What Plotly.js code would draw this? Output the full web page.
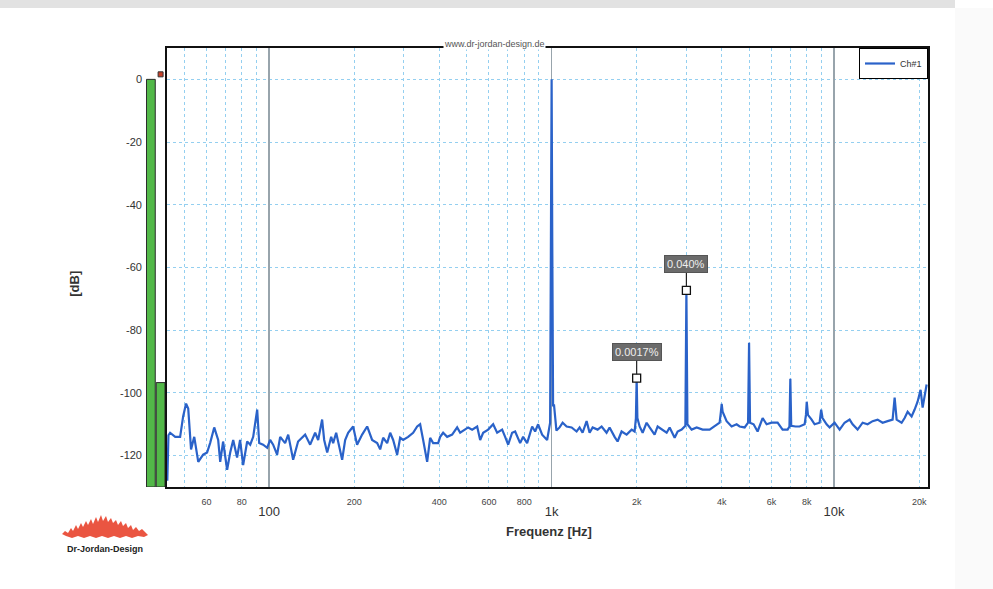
<!DOCTYPE html>
<html>
<head>
<meta charset="utf-8">
<script src="https://cdn.plot.ly/plotly-3.0.1.min.js"></script>
<style>
  html, body { margin:0; padding:0; background:#ffffff; }
  #wrap { position:relative; width:993px; height:589px; overflow:hidden; }
  #topband { position:absolute; left:0; top:0; width:955px; height:8px; background:#e2e2e2; }
  #rightband { position:absolute; left:955px; top:8px; width:38px; height:581px; background:#fafafa; }
  #logo { position:absolute; left:60px; top:512px; }
  #chart { position:absolute; left:0; top:0; width:993px; height:589px; }
</style>
</head>
<body>
<div id="wrap">
  <div id="topband"></div>
  <div id="rightband"></div>
  <svg id="logo" width="90" height="30" viewBox="0 0 90 30">
    <polygon fill="#e8432c" fill-opacity="0.9"
      points="2,22 5,19 8,21 11,16 13,19 16,13 18,17 21,11 23,15 26,9 28,13 31,7 33,12 36,5 38,10 41,3 43,9 46,4 48,10 51,6 53,11 56,8 58,13 61,9 63,14 66,11 68,16 71,13 73,18 76,15 79,19 82,17 86,21 88,23 84,25 78,24 72,26 66,24 60,26 54,24 48,26 42,24 36,26 30,24 24,26 18,24 12,26 6,24"/>
  </svg>
  <div id="chart"></div>
</div>
<script>
// ---- Spectrum data (Ch#1) ----
const freqHz = [
  43.6, 44.0, 44.6, 46.5, 48.4, 49.6, 50.8, 51.7, 52.9, 54.3, 56.1, 58.4, 60.3, 61.8, 63.9, 66.0, 67.1, 68.7,
  71.0, 72.8, 74.6, 77.0, 78.9, 80.9, 83.6, 85.7, 87.8, 90.7, 92.2, 95.2, 98.4, 100.8, 103.3, 106.7, 109.4,
  113.9, 116.8, 121.6, 126.6, 131.9, 134.1, 139.7, 145.5, 149.1, 154.0, 156.6, 160.5, 165.8, 168.5, 172.7,
  176.9, 181.3, 185.8, 190.4, 198.3, 204.8, 213.4, 222.3, 231.5, 241.2, 247.2, 253.3, 261.7, 268.2, 274.8,
  283.9, 290.9, 298.1, 310.5, 323.4, 334.2, 342.4, 350.9, 362.5, 371.5, 380.7, 396.6, 403.1, 413.0, 426.7,
  444.5, 463.0, 474.5, 494.2, 506.4, 523.2, 545.0, 558.5, 572.3, 596.1, 620.9, 641.4, 668.1, 684.6, 701.5,
  724.8, 742.7, 773.6, 792.7, 819.0, 853.1, 874.2, 895.9, 925.5, 964.1, 987.9,
  995, 1000, 1005, 1012, 1020, 1040, 1067, 1094, 1130, 1177, 1226, 1256, 1287, 1330, 1363, 1397, 1455,
  1503, 1565, 1604, 1671, 1712, 1769, 1843, 1920, 1967, 1988, 2000, 2012, 2049, 2100, 2169, 2223, 2315,
  2373, 2471, 2554, 2617, 2726, 2793, 2886, 2975, 3000, 3025, 3131, 3262, 3424, 3625, 3776, 3933, 3975,
  4000, 4030, 4164, 4337, 4518, 4630, 4823, 4960, 5000, 5040, 5188, 5360, 5584, 5769, 6009, 6310, 6572,
  6846, 6950, 7000, 7050, 7305, 7549, 7864, 7950, 8000, 8080, 8326, 8531, 8885, 9000, 9100, 9408, 9641,
  10040, 10460, 10890, 11350, 11630, 12110, 12620, 13140, 13690, 14260, 14850, 15470, 16110, 16380,
  16650, 17340, 17770, 18210, 18810, 19280, 19750, 20240, 20580, 21260
];
const levelDb = [
  -128, -113.5, -112.7, -114, -114, -107.5, -103.4, -105, -118, -114, -122, -119.7, -119, -116, -111, -115, -122, -115.5,
  -124.5, -119, -115, -120.6, -115, -123, -115.5, -116.5, -114, -105.3, -116, -116.5, -117.5, -115, -116.5, -119.7, -114,
  -116, -113.3, -121.3, -115.5, -114, -113.3, -116.5, -112.7, -115, -108.5, -115, -119, -114, -116, -112.7,
  -117, -121.3, -115, -112.7, -110.7, -116.5, -113.3, -110.7, -115, -116, -118, -114.3, -116, -112.7, -115,
  -119.7, -114.3, -115, -114, -112.7, -110.7, -110, -115, -122, -114.3, -116, -116, -114, -112.7, -114,
  -113.3, -111, -112.7, -111.7, -111, -111.7, -110.7, -115, -112.7, -111.7, -110, -112.7, -111.7, -114, -116.5,
  -112.7, -112.3, -116, -114, -116, -110.7, -112.3, -110, -113.3, -115, -109.5,
  -50, 0, -50, -104, -104, -112, -111, -109.5, -110.7, -111, -112.3, -111, -112.7, -109, -112.7, -111, -111.7,
  -110.7, -112.7, -111, -114, -115.5, -112.3, -113.3, -111.7, -112.3, -108, -95.3, -108, -110.7, -112.7, -109.5, -111, -113.3,
  -110.7, -111.7, -112.7, -111, -114.3, -112.3, -111.7, -110.5, -67.3, -110, -111.7, -111, -111.7, -111.7, -110.7, -109.5, -106,
  -103.5, -106, -109, -110.7, -110, -110.7, -111, -109.5, -84, -109.5, -110, -112.3, -108, -110, -109.5, -109.5, -111.7,
  -111.7, -110.7, -95.5, -110.5, -110.7, -110.7, -110, -107, -102.8, -107, -108.5, -110, -109.5, -105.3, -108, -110, -111,
  -109.5, -111.7, -109.5, -108.5, -110, -111.7, -109.5, -110, -109, -108.5, -109.5, -109, -108.5, -101.5,
  -108.5, -109.5, -108, -106, -107.5, -105.3, -102.8, -99, -104.7, -97.3
];

// ---- Harmonic markers ----
const harmonicHz = [2000, 3000];
const harmonicDb = [-95.3, -67.3];
const harmonicLabels = ['0.0017%', '0.040%'];

// ---- Level meters ----
const meterSlots = [0, 1];
const meterLevelDb = [0, -96.7];
const meterFloorDb = -130;
const peakSlot = [1];
const peakDb = [1.6];

// ---- Axes ----
const yTicks = [0, -20, -40, -60, -80, -100, -120];
const yTickText = ['0', '-20', '-40', '-60', '-80', '-100', '-120'];
const xGridHz = [50, 60, 70, 80, 90, 200, 300, 400, 500, 600, 700, 800, 900,
                 2000, 3000, 4000, 5000, 6000, 7000, 8000, 9000, 20000];
const xGridText = ['', '60', '', '80', '', '200', '', '400', '', '600', '', '800', '',
                   '2k', '', '4k', '', '6k', '', '8k', '', '20k'];
const decadeHz = [100, 1000, 10000];
const decadeText = ['100', '1k', '10k'];

const xRange = [Math.log10(43.5), Math.log10(21500)];
const yRange = [-130, 10];
const FONT = 'Liberation Sans, Arial, sans-serif';

const traces = [
  {
    type: 'bar', x: meterSlots, y: meterLevelDb.map(v => v - meterFloorDb), base: meterFloorDb,
    xaxis: 'x2', yaxis: 'y2', width: 0.9, showlegend: false, hoverinfo: 'skip',
    marker: { color: '#52b848', line: { color: '#2b2b2b', width: 1 } }
  },
  {
    type: 'scatter', mode: 'markers', x: peakSlot, y: peakDb, xaxis: 'x2', yaxis: 'y2',
    showlegend: false, hoverinfo: 'skip',
    marker: { symbol: 'square', size: 5, color: '#c8402a', line: { color: '#333', width: 1 } }
  },
  {
    type: 'scatter', mode: 'lines', x: [], y: [], xaxis: 'x3', yaxis: 'y', showlegend: false, hoverinfo: 'skip'
  },
  {
    type: 'scatter', mode: 'lines', name: 'Ch#1', x: freqHz, y: levelDb,
    line: { color: '#2a62c9', width: 2.2 }
  },
  {
    type: 'scatter', mode: 'markers', x: harmonicHz, y: harmonicDb, showlegend: false, hoverinfo: 'skip',
    marker: { symbol: 'square', size: 8, color: '#ffffff', line: { color: '#111', width: 1.3 } }
  }
];

const annotations = harmonicHz.map((f, i) => ({
  x: Math.log10(f), y: harmonicDb[i], xref: 'x', yref: 'y',
  text: harmonicLabels[i], showarrow: true, arrowhead: 0, arrowwidth: 1.2, arrowcolor: '#222',
  ax: 0, ay: -26, standoff: 4,
  bgcolor: '#6b6b6b', bordercolor: '#555', borderwidth: 1, borderpad: 2,
  font: { family: FONT, size: 11, color: '#eeeeee' }
}));
annotations.push(
  { xref: 'paper', yref: 'paper', x: 0.446, y: 1.009, xanchor: 'center', yanchor: 'middle',
    text: 'www.dr-jordan-design.de', showarrow: false,
    bgcolor: '#ffffff', font: { family: FONT, size: 9, color: '#555' }, borderpad: 0 },
  { xref: 'paper', yref: 'paper', x: -0.0908, y: 0.463, xanchor: 'center', yanchor: 'middle',
    text: '<b>[dB]</b>', showarrow: false, textangle: -90,
    font: { family: FONT, size: 13, color: '#333' } },
  { xref: 'paper', yref: 'paper', x: 0.515, y: -0.1025, xanchor: 'center', yanchor: 'middle',
    text: '<b>Frequenz [Hz]</b>', showarrow: false,
    font: { family: FONT, size: 13, color: '#333' } },
  { xref: 'paper', yref: 'paper', x: -0.0524, y: -0.1412, xanchor: 'center', yanchor: 'middle',
    text: '<b>Dr-Jordan-Design</b>', showarrow: false,
    font: { family: FONT, size: 9, color: '#222' } }
);

const layout = {
  width: 993, height: 589,
  margin: { l: 146, r: 65, t: 48, b: 102 },
  paper_bgcolor: 'rgba(0,0,0,0)', plot_bgcolor: '#ffffff',
  font: { family: FONT, color: '#333' },
  showlegend: true,
  legend: { x: 1, y: 1, xanchor: 'right', yanchor: 'top', bgcolor: '#ffffff', bordercolor: '#000',
            borderwidth: 1, font: { size: 9, color: '#333' }, itemwidth: 30 },
  xaxis: {
    type: 'log', range: xRange, domain: [0.0269, 1], anchor: 'y',
    tickmode: 'array', tickvals: xGridHz, ticktext: xGridText, ticks: '',
    tickfont: { size: 9, color: '#444' }, ticklabelstandoff: 5,
    showgrid: true, gridcolor: '#94cff0', griddash: '3px,3px', gridwidth: 1,
    showline: true, mirror: true, linecolor: '#111', linewidth: 2, zeroline: false, fixedrange: true
  },
  xaxis3: {
    type: 'log', range: xRange, overlaying: 'x', anchor: 'y', side: 'bottom',
    tickmode: 'array', tickvals: decadeHz, ticktext: decadeText, ticks: '',
    tickfont: { size: 13, color: '#333' }, ticklabelstandoff: 15,
    showgrid: true, gridcolor: '#98a4ac', gridwidth: 1.6, showline: false, zeroline: false
  },
  yaxis: {
    range: yRange, domain: [0, 1], anchor: 'x',
    tickmode: 'array', tickvals: yTicks, showticklabels: false, ticks: '',
    showgrid: true, gridcolor: '#94cff0', griddash: '3px,3px', gridwidth: 1,
    showline: true, mirror: true, linecolor: '#111', linewidth: 2, zeroline: false
  },
  xaxis2: {
    domain: [0, 0.0249], anchor: 'y2', range: [-0.5, 1.5], showgrid: false, showticklabels: false,
    zeroline: false, ticks: '', showline: false
  },
  yaxis2: {
    domain: [0, 1], anchor: 'x2', range: yRange, tickmode: 'array', tickvals: yTicks, ticktext: yTickText,
    ticks: '', showgrid: false, zeroline: false, showline: false, tickfont: { size: 11, color: '#333' },
    ticklabelstandoff: 3
  },
  annotations: annotations
};

Plotly.newPlot('chart', traces, layout, { displayModeBar: false, staticPlot: true });
</script>
</body>
</html>
